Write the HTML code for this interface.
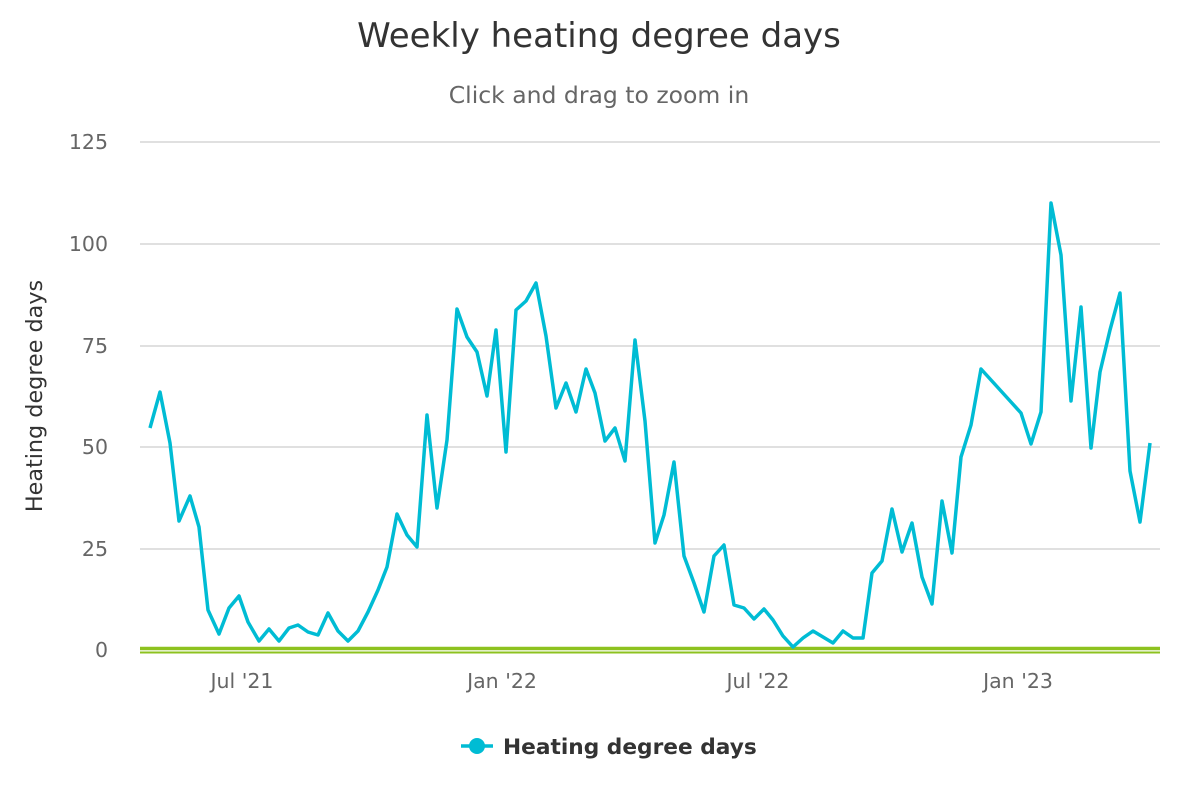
<!DOCTYPE html>
<html><head><meta charset="utf-8"><style>body{margin:0;background:#fff}svg{display:block;font-family:"DejaVu Sans",sans-serif}</style></head><body>
<svg width="1200" height="800" viewBox="0 0 1200 800">
<rect width="1200" height="800" fill="#fff"/>
<text x="599" y="47" text-anchor="middle" font-size="34" fill="#333">Weekly heating degree days</text>
<text x="599" y="103" text-anchor="middle" font-size="23.5" fill="#666">Click and drag to zoom in</text>
<g stroke="#e0e0e0" stroke-width="2">
<line x1="140" y1="142" x2="1160" y2="142"/><line x1="140" y1="244" x2="1160" y2="244"/><line x1="140" y1="346" x2="1160" y2="346"/><line x1="140" y1="447" x2="1160" y2="447"/><line x1="140" y1="549" x2="1160" y2="549"/>
</g>
<g font-size="20.5" fill="#666" text-anchor="end">
<text x="108" y="149">125</text><text x="108" y="251">100</text><text x="108" y="353">75</text><text x="108" y="454">50</text><text x="108" y="556">25</text><text x="108" y="657">0</text>
</g>
<g font-size="20.5" fill="#666" text-anchor="middle">
<text x="242" y="688">Jul '21</text><text x="502" y="688">Jan '22</text><text x="758" y="688">Jul '22</text><text x="1018" y="688">Jan '23</text>
</g>
<text transform="translate(42,396) rotate(-90)" text-anchor="middle" font-size="22.3" fill="#333">Heating degree days</text>
<line x1="140" y1="648.5" x2="1160" y2="648.5" stroke="#8dc21f" stroke-width="3.5"/>
<line x1="140" y1="652.5" x2="1160" y2="652.5" stroke="#8dc21f" stroke-width="2"/>
<polyline fill="none" stroke="#00bcd4" stroke-width="3.5" stroke-linejoin="round" points="150,428 160,392 170,443 179,521 190,496 199,527 208,610 219,634 229,608 239,596 248,622 259,641 269,629 279,641 289,628 298,625 308,632 318,635 328,613 338,631 348,641 358,631 368,612 378,590 387,567 397,514 407,535 417,547 427,415 437,508 447,440 457,309 467,337 477,352 487,396 496,330 506,452 516,310 526,301 536,283 546,336 556,408 566,383 576,412 586,369 595,393 605,441 615,428 625,461 635,340 645,421 655,543 664,515 674,462 684,556 694,583 704,612 714,556 724,545 734,605 744,608 754,619 764,609 773,620 783,636 793,647 803,638 813,631 823,637 833,643 843,631 853,638 863,638 872,573 882,561 892,509 902,552 912,523 922,577 932,604 942,501 952,553 961,457 971,425 981,369 991,380 1001,391 1011,402 1021,413 1031,444 1041,412 1051,203 1061,255 1071,401 1081,307 1091,448 1100,372 1110,330 1120,293 1130,471 1140,522 1150,443"/>
<line x1="461" y1="746" x2="493" y2="746" stroke="#00bcd4" stroke-width="3.5"/>
<circle cx="477" cy="746" r="8" fill="#00bcd4"/>
<text x="503" y="754" font-size="21.7" font-weight="bold" fill="#333">Heating degree days</text>
</svg>
</body></html>
